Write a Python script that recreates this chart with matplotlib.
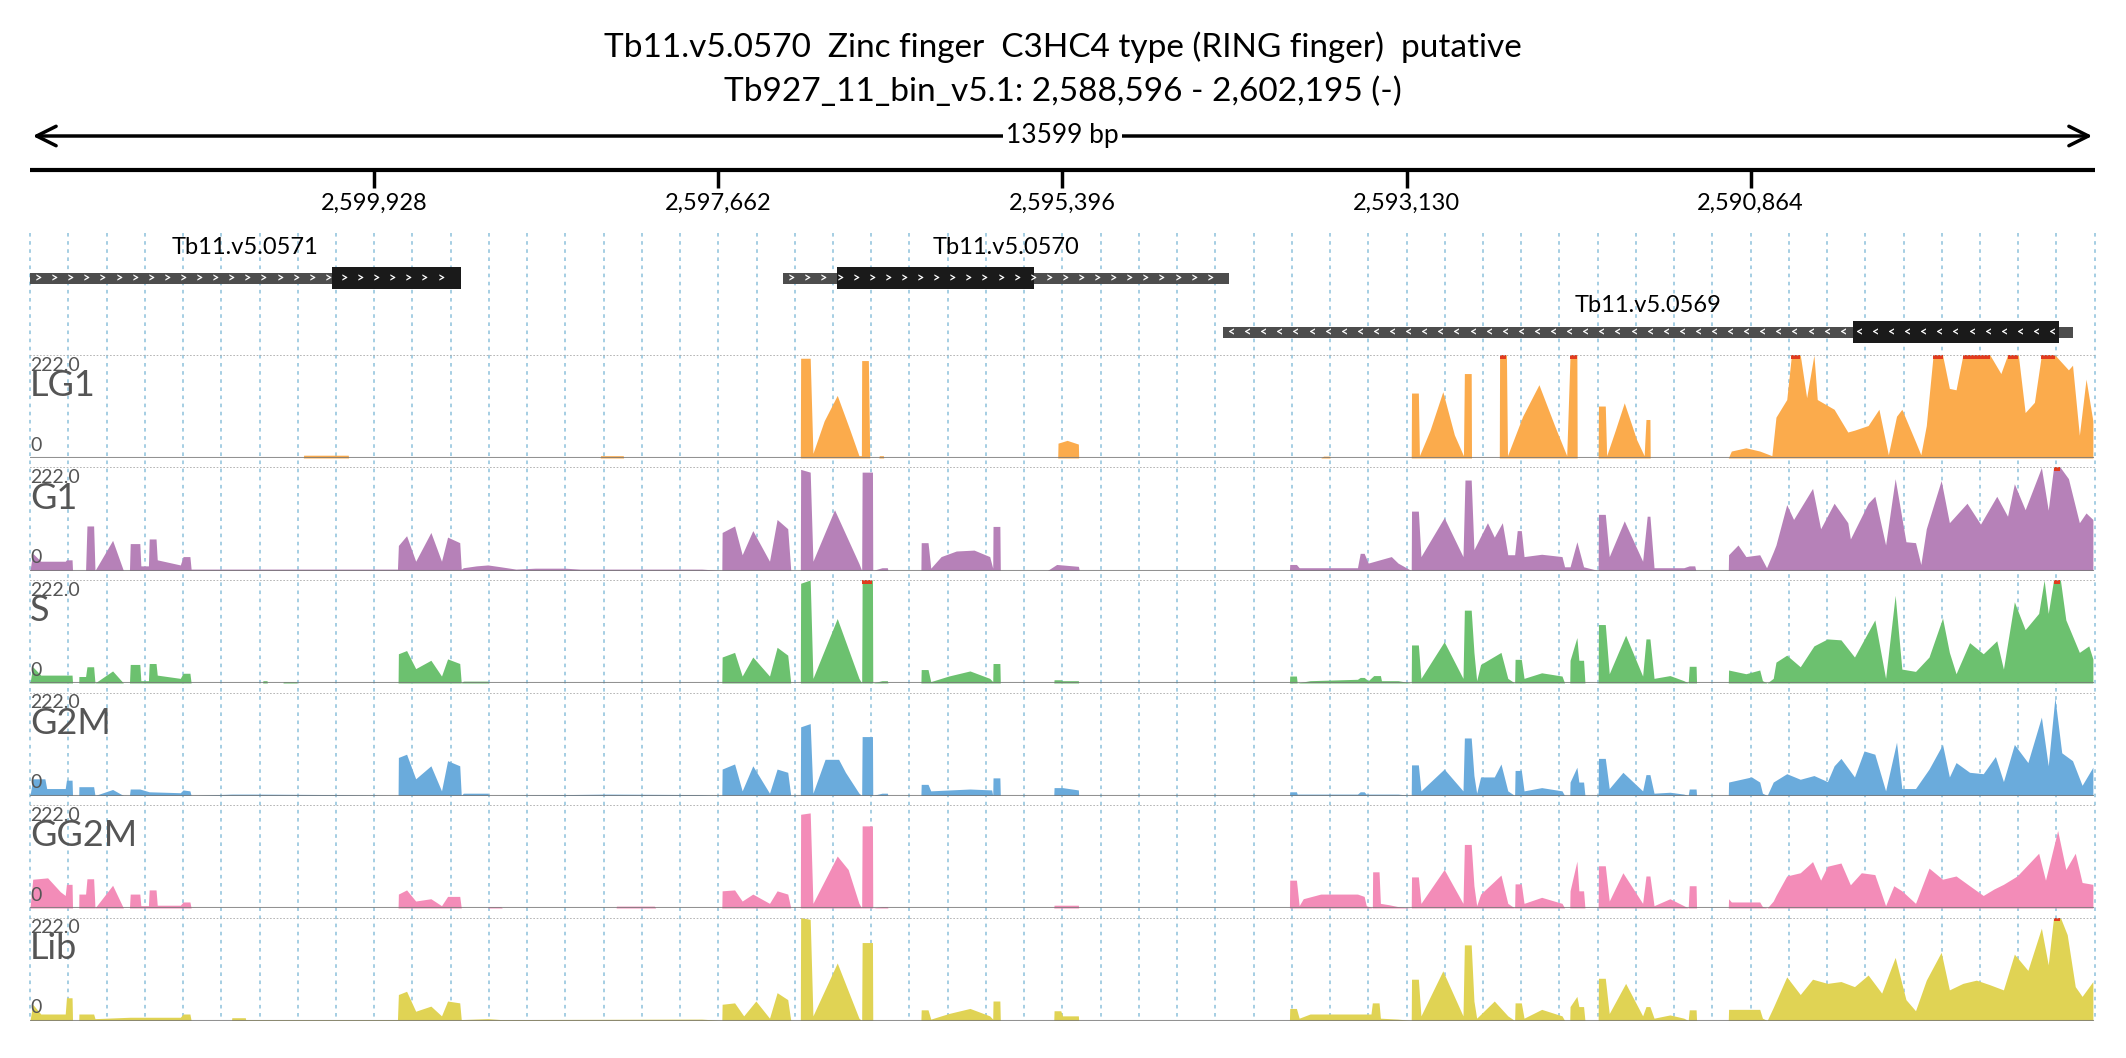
import numpy as np
import matplotlib
matplotlib.use("Agg")
import matplotlib.pyplot as plt

plt.rcParams['font.family'] = ['Lato', 'DejaVu Sans']

# ---------------- data ----------------
chrom_start = 2588596
chrom_end = 2602195          # minus strand view: left = chrom_end
span = chrom_end - chrom_start  # 13599
title1 = "Tb11.v5.0570  Zinc finger  C3HC4 type (RING finger)  putative"
title2 = "Tb927_11_bin_v5.1: 2,588,596 - 2,602,195 (-)"
tick_coords = [2599928, 2597662, 2595396, 2593130, 2590864]

gene_names = ["Tb11.v5.0571", "Tb11.v5.0570", "Tb11.v5.0569"]
gene_start = [0, 4960, 7859]          # offsets (bp) from left edge
gene_end = [2837, 7894, 13451]
cds_start = [1989, 5316, 12006]
cds_end = [2837, 6610, 13362]
gene_strand = ["+", "+", "-"]
gene_row = [0, 0, 1]

track_names = ["LG1", "G1", "S", "G2M", "GG2M", "Lib"]
track_colors = ["#fbab4c", "#b681b8", "#6cc16f", "#6aabdc", "#f38cb8", "#e0d354"]
ymax = 222.0

LG1 = [(0,0),(1800,0),(1802,6),(2096,6),(2098,0),(3755,0),(3757,5),(3907,5),(3909,0),
(5073,0),(5075,215),(5138,215),(5156,10),(5230,80),(5316,135),(5400,60),(5459,5),(5475,5),(5477,210),(5521,210),(5530,0),
(5590,0),(5593,5),(5620,5),(5622,0),
(6768,0),(6770,32),(6830,38),(6904,30),(6906,0),
(8500,0),(8519,4),(8560,4),(8562,0),
(9096,0),(9098,140),(9143,140),(9150,5),(9220,60),(9304,143),(9380,50),(9440,5),(9446,182),(9491,182),(9493,0),
(9676,0),(9678,222),(9723,222),(9730,5),(9830,90),(9937,158),(10040,70),(10120,5),(10142,222),(10187,222),(10189,0),
(10327,0),(10329,112),(10374,112),(10383,5),(10440,60),(10499,119),(10580,40),(10630,5),(10642,83),(10668,83),(10670,0),
(11184,0),(11204,15),(11300,22),(11391,15),(11471,5),(11498,88),(11569,126),(11600,222),(11658,222),(11700,130),(11748,222),(11770,126),(11881,105),(11971,56),(12015,60),(12105,70),(12176,105),(12238,7),(12292,90),(12327,105),(12417,35),(12452,7),(12488,70),(12533,222),(12595,222),(12640,150),(12684,147),(12729,222),(12907,222),(12979,182),(13023,222),(13094,222),(13139,98),(13200,120),(13246,222),(13291,222),(13335,222),(13424,190),(13451,200),(13496,49),(13540,170),(13585,80)]

G1 = [(0,0),(18,37),(71,20),(232,20),(240,23),(277,23),(280,0),(366,0),
(375,96),(419,96),(428,0),(544,65),(615,0),(655,0),(660,58),(723,58),(730,10),(780,10),(785,68),(830,68),(838,23),(990,12),(1008,30),(1053,30),(1061,3),(2420,3),
(2426,54),(2480,75),(2540,20),(2640,82),(2710,20),(2750,72),(2830,60),(2840,3),
(2854,6),(2940,10),(3015,12),(3100,8),(3200,3),(3327,5),(3523,5),(3622,3),(4424,3),
(4556,0),(4558,82),(4640,96),(4690,34),(4760,86),(4870,20),(4920,110),(4990,90),(5010,0),
(5073,0),(5075,218),(5138,212),(5156,20),(5298,131),(5459,15),(5477,0),(5480,212),(5548,212),(5550,0),
(5611,6),(5646,6),(5650,0),(5867,0),(5869,60),(5914,60),(5932,5),(6000,30),(6100,42),(6217,44),(6320,30),(6340,5),(6342,95),(6387,95),(6390,0),
(6700,0),(6761,13),(6904,9),(6910,0),
(8294,0),(8296,13),(8340,13),(8358,6),(8742,6),(8760,37),(8786,37),(8813,16),(8965,30),(9009,16),(9096,0),
(9098,128),(9143,128),(9160,30),(9313,114),(9437,30),(9450,195),(9491,195),(9509,45),(9598,103),(9643,72),(9696,103),(9732,34),(9777,34),(9794,86),(9821,86),(9839,30),(9955,35),(10089,30),(10106,8),(10142,8),(10187,62),(10231,8),(10327,0),
(10329,121),(10374,121),(10400,30),(10499,107),(10620,20),(10650,117),(10668,117),(10695,6),(10891,6),(10927,10),(10963,10),(10970,0),
(11184,0),(11186,34),(11248,55),(11300,30),(11391,34),(11436,6),(11480,40),(11498,55),(11569,142),(11614,110),(11739,177),(11792,90),(11881,145),(11971,103),(11988,68),(12105,145),(12149,160),(12220,55),(12283,198),(12354,62),(12417,60),(12452,13),(12488,90),(12586,194),(12640,103),(12756,145),(12845,100),(12952,160),(13023,117),(13068,187),(13139,131),(13246,222),(13291,130),(13326,222),(13371,222),(13424,198),(13496,103),(13540,124),(13585,110)]

S = [(0,0),(18,35),(71,17),(232,17),(277,17),(280,0),(321,0),(322,14),(366,14),(375,35),(419,35),(428,0),(544,26),(615,0),(655,0),(660,40),(723,40),(730,5),(780,5),(785,42),(830,42),(838,17),(990,10),(1008,21),(1053,21),(1061,0),
(1532,0),(1534,5),(1561,5),(1563,0),(1666,0),(1668,3),(1757,3),(1759,0),
(2424,0),(2426,63),(2480,70),(2540,31),(2640,49),(2710,15),(2750,52),(2830,42),(2840,0),
(2854,4),(3015,4),(3020,0),
(4556,0),(4558,56),(4640,66),(4690,15),(4760,56),(4870,15),(4920,77),(4990,60),(5010,0),
(5073,0),(5075,215),(5138,222),(5156,10),(5316,139),(5459,10),(5477,0),(5480,222),(5548,222),(5550,0),
(5611,5),(5646,5),(5650,0),(5867,0),(5869,29),(5914,29),(5932,3),(6050,15),(6190,26),(6320,10),(6340,3),(6342,42),(6387,42),(6390,0),
(6742,0),(6744,7),(6788,7),(6800,5),(6904,5),(6906,0),
(8294,0),(8296,15),(8340,15),(8345,0),(8430,5),(8742,8),(8760,12),(8786,12),(8813,5),(8849,16),(8893,16),(8900,5),(9009,5),(9096,0),
(9098,82),(9143,82),(9160,10),(9313,89),(9437,10),(9446,157),(9491,157),(9509,66),(9527,5),(9553,40),(9687,66),(9732,10),(9777,0),(9780,51),(9821,51),(9839,10),(9955,22),(10089,15),(10106,0),(10140,0),(10142,49),(10187,98),(10200,49),(10231,49),(10240,0),(10327,0),
(10329,126),(10374,126),(10400,20),(10508,103),(10620,15),(10642,95),(10668,95),(10695,10),(10800,16),(10891,5),(10920,0),(10927,36),(10972,36),(10975,0),
(11184,0),(11186,28),(11300,20),(11391,28),(11409,5),(11440,0),(11480,10),(11498,45),(11569,60),(11658,35),(11748,80),(11837,95),(11926,93),(12015,56),(12149,136),(12220,10),(12283,189),(12327,30),(12417,25),(12506,56),(12595,140),(12640,66),(12684,20),(12773,87),(12863,63),(12952,91),(12996,30),(13068,175),(13139,115),(13228,150),(13264,222),(13291,150),(13326,222),(13371,222),(13407,136),(13496,66),(13558,80),(13585,52)]

G2M = [(0,0),(18,36),(98,36),(110,15),(232,15),(240,33),(277,33),(280,0),(321,0),(322,19),(419,19),(428,0),(544,13),(615,0),(655,0),(660,14),(723,14),(785,8),(990,6),(1008,12),(1053,10),(1061,0),
(1329,3),(1463,3),(2000,2),(2400,0),
(2424,0),(2426,82),(2480,89),(2540,36),(2640,64),(2710,10),(2750,75),(2830,64),(2840,0),
(2854,5),(3015,5),(3020,0),(3800,3),(4400,2),(4556,0),
(4558,57),(4640,68),(4690,10),(4760,64),(4870,5),(4920,57),(4990,50),(5010,0),
(5073,0),(5075,148),(5138,155),(5156,5),(5236,78),(5325,78),(5370,50),(5459,5),(5477,0),(5480,127),(5548,127),(5550,0),
(5611,5),(5646,5),(5650,0),(5867,0),(5869,24),(5914,24),(5932,10),(6190,14),(6333,12),(6340,0),(6342,38),(6387,38),(6390,0),
(6742,0),(6744,17),(6788,17),(6800,17),(6904,12),(6906,0),
(8294,0),(8296,8),(8340,8),(8345,3),(8742,3),(8760,8),(8786,8),(8800,3),(9009,3),(9096,0),
(9098,66),(9143,66),(9160,10),(9313,57),(9437,10),(9446,124),(9491,124),(9509,43),(9527,5),(9553,40),(9643,40),(9687,68),(9732,10),(9777,0),(9780,54),(9821,54),(9839,10),(9955,17),(10089,10),(10106,0),(10140,0),(10142,29),(10187,61),(10200,29),(10231,29),(10240,0),(10327,0),
(10329,80),(10374,80),(10400,15),(10490,50),(10620,10),(10642,45),(10668,45),(10695,5),(10800,7),(10891,3),(10920,0),(10927,14),(10972,14),(10975,0),
(11184,0),(11186,29),(11337,40),(11391,29),(11409,5),(11440,0),(11480,29),(11569,47),(11658,35),(11748,43),(11837,30),(11881,64),(11926,80),(12015,40),(12078,96),(12149,89),(12220,10),(12292,115),(12327,15),(12417,15),(12506,57),(12595,110),(12640,40),(12684,71),(12773,50),(12863,47),(12943,84),(12996,30),(13068,110),(13157,71),(13246,169),(13291,64),(13335,211),(13380,92),(13451,75),(13514,22),(13585,61)]

GG2M = [(0,0),(18,62),(116,65),(200,35),(232,27),(240,51),(277,51),(280,0),(321,0),(322,30),(366,30),(375,63),(419,63),(428,0),(544,49),(615,0),(655,0),(660,30),(723,30),(730,5),(780,5),(785,39),(830,39),(838,6),(990,6),(1008,13),(1053,13),(1061,0),
(2424,0),(2426,30),(2480,39),(2540,15),(2640,20),(2710,5),(2750,25),(2830,25),(2840,0),(3015,0),(3020,3),(3100,3),(3110,0),(3860,0),(3862,4),(4112,4),(4120,0),
(4556,0),(4558,37),(4640,39),(4690,15),(4760,30),(4870,10),(4920,37),(4990,30),(5010,0),
(5073,0),(5075,202),(5138,205),(5156,10),(5316,112),(5388,83),(5459,10),(5477,0),(5480,177),(5548,177),(5550,0),
(5611,3),(5646,3),(5650,0),(6742,0),(6744,6),(6904,6),(6906,0),
(8294,0),(8296,60),(8340,60),(8358,5),(8385,20),(8500,30),(8742,30),(8786,25),(8800,5),(8840,0),(8842,78),(8884,78),(8893,10),(8950,7),(9009,3),(9096,0),
(9098,67),(9143,67),(9160,10),(9313,83),(9437,10),(9446,137),(9491,137),(9509,48),(9527,5),(9553,30),(9687,71),(9732,10),(9777,0),(9780,52),(9821,52),(9839,10),(9955,23),(10089,10),(10106,0),(10140,0),(10142,37),(10187,101),(10200,37),(10231,37),(10240,0),(10327,0),
(10329,91),(10374,91),(10400,15),(10490,76),(10620,10),(10642,69),(10668,69),(10695,5),(10800,20),(10891,5),(10920,0),(10927,48),(10972,48),(10975,0),
(11184,0),(11186,20),(11204,13),(11391,13),(11409,3),(11440,0),(11480,15),(11498,27),(11569,69),(11658,76),(11739,100),(11792,60),(11837,90),(11926,97),(11988,50),(12060,76),(12149,72),(12220,5),(12274,48),(12327,37),(12417,10),(12506,86),(12595,62),(12684,69),(12773,48),(12863,27),(12934,41),(12996,51),(13086,69),(13228,118),(13273,60),(13353,167),(13407,83),(13469,118),(13514,55),(13585,51)]

Lib = [(0,0),(18,35),(71,14),(232,14),(240,49),(277,49),(280,0),(321,0),(322,14),(419,14),(428,4),(660,7),(990,7),(1008,14),(1053,14),(1061,0),(1327,0),(1329,6),(1418,6),(1420,2),(2420,2),
(2426,56),(2480,63),(2540,20),(2640,31),(2710,10),(2750,42),(2830,38),(2840,2),(3015,4),(3100,2),(4424,3),(4556,0),
(4558,35),(4640,38),(4700,10),(4780,42),(4870,5),(4920,60),(4990,45),(5010,0),
(5073,0),(5075,222),(5138,218),(5156,10),(5316,124),(5459,5),(5477,0),(5480,168),(5548,168),(5550,0),
(5867,0),(5869,23),(5914,23),(5932,3),(6050,15),(6190,26),(6320,10),(6340,3),(6342,42),(6387,42),(6390,0),
(6742,0),(6744,21),(6788,21),(6800,10),(6904,10),(6906,0),
(8294,0),(8296,26),(8340,26),(8358,5),(8430,14),(8831,14),(8840,38),(8884,38),(8893,5),(9009,3),(9096,0),
(9098,89),(9143,89),(9160,10),(9304,107),(9437,10),(9446,163),(9491,163),(9509,42),(9527,5),(9643,42),(9732,10),(9777,0),(9780,38),(9821,38),(9839,5),(9955,24),(10089,10),(10106,0),(10140,0),(10142,30),(10187,52),(10200,30),(10231,30),(10240,0),(10327,0),
(10329,91),(10374,91),(10400,15),(10508,80),(10620,10),(10642,30),(10668,30),(10695,5),(10800,12),(10891,5),(10920,0),(10927,23),(10972,23),(10975,0),
(11184,0),(11186,24),(11391,24),(11409,5),(11440,0),(11480,28),(11569,94),(11658,56),(11739,89),(11837,80),(11926,84),(12015,73),(12105,98),(12194,59),(12283,136),(12354,45),(12417,21),(12488,87),(12586,147),(12640,66),(12729,80),(12818,87),(12907,77),(12996,66),(13068,143),(13157,108),(13246,199),(13291,120),(13326,222),(13371,222),(13416,185),(13469,73),(13514,52),(13585,84)]

tracks = [LG1, G1, S, G2M, GG2M, Lib]

# ---------------- layout ----------------
W, H = 2126, 1058
fig = plt.figure(figsize=(W/100, H/100), dpi=100)
L, R = 30, 2095

def frac(x0, y0, w, h):
    return [x0/W, 1 - (y0 + h)/H, w/W, h/H]

ax0 = fig.add_axes([0, 0, 1, 1])
ax0.set_xlim(-L/(R-L)*span, span + (W-R)/(R-L)*span)
ax0.set_ylim(H, 0)
ax0.axis('off')

fig.text(0.5, 1-47/H, title1, ha='center', va='center', fontsize=24)
fig.text(0.5, 1-92/H, title2, ha='center', va='center', fontsize=24)

# span arrow
ax0.annotate('', xy=(0, 136), xytext=(span, 136),
             arrowprops=dict(arrowstyle='<->', lw=2.5, mutation_scale=35, color='black'))
ax0.text(span/2, 136, f"{span} bp", ha='center', va='center', fontsize=19,
         bbox=dict(facecolor='white', edgecolor='none', pad=2))

# coordinate axis
ax0.plot([0, span], [170, 170], color='black', lw=3, solid_capstyle='butt')
tick_off = [chrom_end - t for t in tick_coords]
ax0.vlines(tick_off, 170, 188, color='black', lw=2.5)
for t, o in zip(tick_coords, tick_off):
    ax0.text(o, 193, f"{t:,}", ha='center', va='top', fontsize=17)

# grid lines
step = (tick_off[1] - tick_off[0]) / 9
grid = tick_off[0] + step * np.arange(-9, 60)
grid = grid[(grid >= -5) & (grid <= span + 5)]
ax0.vlines(grid, 233, 1021, colors='#9ecae1', linestyles=(0, (2, 2.5)), lw=1.3, zorder=0)

# genes
row_y = [278, 332]
label_y = [248, 305]
for name, gs, ge, cs, ce, st, r in zip(gene_names, gene_start, gene_end, cds_start, cds_end, gene_strand, gene_row):
    y = row_y[r]
    ax0.barh(y, ge - gs, left=gs, height=11, color='#4d4d4d', zorder=3)
    ax0.barh(y, ce - cs, left=cs, height=22, color='#1a1a1a', zorder=4)
    ch = '>' if st == '+' else '<'
    for p in np.arange(gs + 55, ge - 30, 106):
        ax0.text(p, y, ch, color='white', fontsize=9, fontweight='bold',
                 ha='center', va='center', zorder=5)
    ax0.text((gs + ge)/2, label_y[r], name, ha='center', va='center', fontsize=17, zorder=5)

# coverage tracks
for k, (nm, col, dat) in enumerate(zip(track_names, track_colors, tracks)):
    top = 355 + 112.5*k
    ax = fig.add_axes(frac(L, top, R-L, 103))
    ax.patch.set_alpha(0)
    ax.set_xlim(0, span)
    ax.set_ylim(0, ymax)
    ax.axis('off')
    x = np.array([p for p, v in dat], float)
    y = np.array([v for p, v in dat], float)
    ax.fill_between(x, 0, y, color=col, lw=0)
    ax.fill_between(x, ymax*0.965, ymax, where=y >= ymax - 0.5, color='#e23b1e', lw=0, interpolate=False)
    ax.plot([0, span], [ymax, ymax], color='#aaaaaa', lw=1.2, ls=(0, (1, 1)))
    ax.plot([0, x.max()], [0, 0], color='#777777', lw=1.5, alpha=0.8)
    ax.text(0, 0.985, "222.0", transform=ax.transAxes, ha='left', va='top', fontsize=14, color='#555555')
    ax.text(0, 0.70, nm, transform=ax.transAxes, ha='left', va='center', fontsize=26, color='#555555')
    ax.text(0, 0.04, "0", transform=ax.transAxes, ha='left', va='bottom', fontsize=14, color='#555555')

fig.savefig("out.png", dpi=100)
